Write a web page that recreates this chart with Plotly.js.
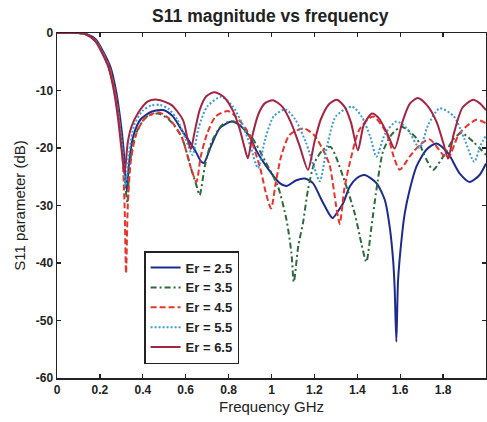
<!DOCTYPE html>
<html>
<head>
<meta charset="utf-8">
<script src="https://cdn.plot.ly/plotly-3.0.1.min.js"></script>
<style>html,body{margin:0;padding:0;background:#fff;}#chart{width:487px;height:422px;}</style>
</head>
<body>
<div id="chart"></div>
<script>
// Er = 2.5
const f25 = [0,0.1,0.14,0.18,0.215,0.25,0.275,0.295,0.31,0.325,0.335,0.355,0.39,0.44,0.495,0.54,0.58,0.642,0.673,0.685,0.72,0.76,0.815,0.86,0.898,0.93,0.976,1.038,1.07,1.116,1.155,1.193,1.233,1.271,1.285,1.31,1.334,1.365,1.396,1.434,1.489,1.528,1.551,1.567,1.574,1.582,1.59,1.606,1.621,1.644,1.676,1.722,1.769,1.823,1.877,1.924,1.97,2.0];
const s25 = [0,0,-0.2,-1.1,-3.2,-6,-10,-15,-20,-27.5,-23,-18,-15,-13.7,-13.4,-14.5,-16.8,-20.3,-22.4,-22.6,-19.5,-16.5,-15.4,-16.3,-18,-20.5,-23.2,-26.1,-26.6,-25.6,-25.3,-26.1,-29,-31.6,-32.2,-31,-29.6,-26.7,-25.3,-24.7,-26.1,-29,-33.7,-39.5,-44.2,-53.7,-43,-36,-31.4,-27.3,-23.2,-20.3,-19.2,-20.9,-24.4,-25.9,-24.7,-22.7];
// Er = 3.5
const f35 = [0,0.1,0.14,0.18,0.21,0.245,0.27,0.29,0.305,0.32,0.328,0.335,0.35,0.38,0.42,0.47,0.52,0.58,0.627,0.65,0.665,0.69,0.72,0.77,0.825,0.905,0.975,1.03,1.07,1.093,1.104,1.125,1.147,1.17,1.2,1.24,1.275,1.334,1.388,1.419,1.442,1.466,1.489,1.52,1.559,1.606,1.676,1.722,1.753,1.8,1.846,1.885,1.94,2.0];
const s35 = [0,0,-0.3,-1.3,-3.2,-6,-10,-15,-20,-27,-29.6,-25,-20,-16.5,-14.5,-14,-15,-18,-23.8,-26.5,-28.2,-23,-19,-16,-15.4,-18,-22.6,-26.7,-32.5,-38.3,-43.3,-37,-33,-27.3,-22.6,-20.3,-19.8,-25,-31.4,-36.6,-39.8,-33.7,-27.3,-20.6,-17.7,-16.3,-18.3,-22,-23.8,-21.5,-18.6,-17.4,-18.9,-21.2];
// Er = 4.5
const f45 = [0,0.1,0.14,0.18,0.21,0.245,0.27,0.29,0.305,0.315,0.322,0.33,0.345,0.37,0.41,0.47,0.52,0.58,0.627,0.65,0.67,0.7,0.74,0.8,0.883,0.945,0.975,0.998,1.02,1.046,1.085,1.15,1.2,1.24,1.271,1.302,1.318,1.34,1.365,1.41,1.473,1.536,1.574,1.598,1.644,1.69,1.737,1.8,1.823,1.877,1.955,2.0];
const s45 = [0,0,-0.3,-1.3,-3.2,-6,-10,-15,-21,-30,-41.8,-30,-22,-17.5,-14.8,-13.8,-14.8,-18,-23.8,-25.9,-21.5,-17.5,-14.5,-13.6,-16.8,-23.2,-28,-30.5,-26,-21.3,-17.7,-16.6,-17.8,-20.3,-23,-30.2,-33.2,-27,-22.6,-16.8,-14.5,-17.4,-22,-23.8,-21.5,-19.5,-18.5,-21.2,-21.8,-17.4,-15.1,-15.7];
// Er = 5.5
const f55 = [0,0.1,0.14,0.18,0.21,0.24,0.265,0.29,0.305,0.32,0.335,0.36,0.4,0.44,0.48,0.52,0.56,0.6,0.632,0.66,0.7,0.766,0.82,0.86,0.9,0.937,0.97,1.01,1.065,1.11,1.16,1.2,1.225,1.26,1.3,1.375,1.42,1.46,1.489,1.53,1.582,1.63,1.69,1.73,1.784,1.85,1.9,1.945,1.975,2.0];
const s55 = [0,0,-0.3,-1.4,-3.3,-6,-9.8,-15.5,-20,-26.6,-21,-16,-13.5,-12.6,-12.5,-13.2,-15,-18.5,-21.2,-16.5,-12.8,-11.1,-12.8,-15.5,-19.5,-23.5,-18.5,-14.5,-13.3,-15,-19,-23.5,-25.8,-19.5,-14.5,-12.8,-14.5,-18,-21.5,-17.5,-15.4,-16.5,-20,-16,-13.1,-14.5,-18.5,-22.4,-19.5,-17.8];
// Er = 6.5
const f65 = [0,0.1,0.14,0.18,0.21,0.24,0.265,0.285,0.3,0.315,0.33,0.347,0.378,0.424,0.468,0.533,0.587,0.61,0.624,0.64,0.665,0.696,0.735,0.78,0.82,0.85,0.875,0.89,0.91,0.94,0.97,1.007,1.05,1.09,1.13,1.17,1.2,1.23,1.27,1.305,1.34,1.37,1.403,1.43,1.468,1.5,1.54,1.574,1.61,1.645,1.683,1.73,1.77,1.8,1.823,1.85,1.89,1.94,1.97,2.0];
const s65 = [0,0,-0.3,-1.5,-3.5,-6,-10,-15,-20,-24.4,-19,-16.3,-13.9,-11.9,-11.6,-12.5,-15.1,-18.6,-20.2,-17.5,-13.4,-11,-10.3,-11.2,-13.5,-16.5,-20,-21.8,-18,-14,-12.2,-11.7,-12.8,-15.5,-19.5,-23.8,-19,-15,-12.3,-11.6,-12.8,-15.5,-20.4,-16,-14,-14.8,-17.5,-20.1,-15.5,-12.3,-11.3,-12.8,-15.5,-19,-21.8,-17.5,-13,-11.6,-12.2,-13.4];

const names = ['Er = 2.5','Er = 3.5','Er = 4.5','Er = 5.5','Er = 6.5'];
const xs = [f25,f35,f45,f55,f65];
const ys = [s25,s35,s45,s55,s65];
const colors = ['#1c2c8c','#2d6a3c','#e8352b','#3b9ad8','#a32443'];
const dashes = ['solid','6px,3px,2px,3px','6px,3px','2px,2px','solid'];

const traces = names.map((n,i)=>({
  x: xs[i], y: ys[i], name: n, type: 'scatter', mode: 'lines',
  line: {color: colors[i], dash: dashes[i], width: 2, shape: 'spline', smoothing: 0.7}
}));

const fam = 'Liberation Sans, Arial, sans-serif';
const tickFont = {family: fam, size: 12, color: '#222'};
const layout = {
  width: 487, height: 422,
  margin: {l: 57, r: 1, t: 33, b: 44},
  paper_bgcolor: '#fff', plot_bgcolor: '#fff',
  title: {text: '<b>S11 magnitude vs frequency</b>', x: 0.555, xanchor: 'center', y: 0.963, yanchor: 'middle',
          font: {family: fam, size: 17.5, color: '#222'}},
  xaxis: {
    range: [0, 2], tickvals: [0,0.2,0.4,0.6,0.8,1,1.2,1.4,1.6,1.8,2],
    ticktext: ['<b>0</b>','<b>0.2</b>','<b>0.4</b>','<b>0.6</b>','<b>0.8</b>','<b>1</b>','<b>1.2</b>','<b>1.4</b>','<b>1.6</b>','<b>1.8</b>','<b>2</b>'],
    ticks: 'inside', ticklen: 4, tickcolor: '#222', tickwidth: 1.3,
    showline: true, linecolor: '#222', linewidth: 1.5, mirror: 'ticks',
    showgrid: false, zeroline: false, tickfont: tickFont,
    title: {text: 'Frequency GHz', standoff: 5, font: {family: fam, size: 15, color: '#222'}}
  },
  yaxis: {
    range: [-60, 0], tickvals: [0,-10,-20,-30,-40,-50,-60],
    ticktext: ['<b>0</b>','<b>-10</b>','<b>-20</b>','<b>-30</b>','<b>-40</b>','<b>-50</b>','<b>-60</b>'],
    ticks: 'inside', ticklen: 4, tickcolor: '#222', tickwidth: 1.3,
    showline: true, linecolor: '#222', linewidth: 1.5, mirror: 'ticks',
    showgrid: false, zeroline: false, tickfont: tickFont,
    title: {text: 'S11 parameter (dB)', standoff: 6, font: {family: fam, size: 15, color: '#222'}}
  },
  showlegend: true,
  legend: {x: 0.203, y: 0.368, xanchor: 'left', yanchor: 'top',
           bgcolor: '#fff', bordercolor: '#222', borderwidth: 1.5,
           font: {family: fam, size: 13, color: '#222', weight: 'bold'},
           tracegroupgap: 0}
};
Plotly.newPlot('chart', traces, layout, {displayModeBar: false, staticPlot: true});
</script>
</body>
</html>
